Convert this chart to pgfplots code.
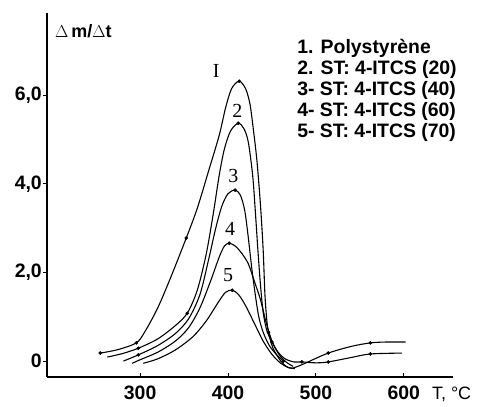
\documentclass[border=0pt]{standalone}
\usepackage{fontspec}
\setmainfont{Liberation Sans}
\newfontfamily\seriffont{Liberation Serif}
\usepackage{pgfplots}
\pgfplotsset{compat=1.18}
\begin{document}
\begin{tikzpicture}
\begin{axis}[
  scale only axis, width=406bp, height=364bp,
  xmin=194, xmax=656, ymin=-0.36, ymax=7.86,
  axis x line=bottom, axis y line=left,
  axis line style={-, line width=1.1pt},
  xtick={300,400,500,600}, xticklabels={300,400,500,600},
  ytick={0,2,4,6}, yticklabels={0,{2,0},{4,0},{6,0}},
  xtick align=inside, ytick align=outside,
  major tick length=4bp,
  tick style={line width=0.9pt, black},
  tick label style={font=\fontsize{19.5}{19.5}\selectfont\bfseries},
  xticklabel style={yshift=-5bp},
  yticklabel style={inner xsep=1pt},
  clip=false,
]
\path[draw=none] ([shift={(-47bp,-30bp)}]rel axis cs:0,0) rectangle ([shift={(31bp,13bp)}]rel axis cs:1,1);
% curve 1
\addplot[black, line width=1.1pt, smooth, tension=0.5] coordinates {
(254.6,0.18) (275,0.26) (295.6,0.41) (305,0.65) (320,1.2) (335,1.9) (352.5,2.78) (365,3.45) (378,4.3) (390,5.1) (397,5.7) (404,6.15) (412.7,6.32) (420,6.15) (425,5.8) (429,5.2) (433,4.5) (437,3.5) (440,2.5) (442,1.5) (444,0.95) (446,0.65) (451,0.3) (460,0.0) (467,-0.13) (473,-0.16) (482,-0.1) (491,-0.02) (514,0.18) (540,0.33) (562,0.41) (580,0.43) (602,0.43)};
% curve 2
\addplot[black, line width=1.1pt, smooth, tension=0.5] coordinates {
(262.6,0.09) (280,0.17) (297.9,0.29) (320,0.5) (340,0.8) (353.6,1.08) (365,1.6) (375,2.4) (383,3.3) (390,4.2) (396,4.8) (403,5.2) (411.6,5.37) (418,5.25) (423,4.95) (428,4.2) (431,3.4) (434,2.5) (437,1.7) (440,1.1) (444,0.7) (450,0.43) (457,0.2) (465,0.05) (475,-0.02) (484,-0.02) (500,-0.04) (514,-0.02) (540,0.08) (562,0.16) (598,0.18)};
% curve 3
\addplot[black, line width=1.1pt, smooth, tension=0.5] coordinates {
(281,0.0) (298,0.14) (320,0.35) (340,0.62) (355,0.95) (368,1.5) (378,2.3) (386,3.0) (393,3.5) (400,3.78) (408,3.86) (414,3.75) (419,3.4) (423,2.8) (427,2.1) (431,1.5) (435,1.0) (440,0.65) (447,0.35) (455,0.15) (463,0.0)};
% curve 4
\addplot[black, line width=1.1pt, smooth, tension=0.5] coordinates {
(291,-0.05) (300,0.03) (320,0.2) (340,0.45) (355,0.75) (368,1.2) (380,1.8) (390,2.35) (396,2.6) (401.4,2.66) (408,2.6) (415,2.45) (423,2.2) (430,1.8) (437,1.38) (443,0.9) (450,0.45) (458,0.15) (466,-0.02) (474,-0.12)};
% curve 5
\addplot[black, line width=1.1pt, smooth, tension=0.5] coordinates {
(303.6,-0.05) (320,0.05) (340,0.25) (360,0.55) (375,0.9) (388,1.3) (397,1.55) (404.8,1.6) (412,1.5) (420,1.25) (430,0.85) (440,0.45) (450,0.15) (460,-0.05) (469,-0.15) (476,-0.17)};
% dots
\addplot[only marks, mark=*, mark size=1.6pt, black] coordinates {
(254.6,0.18) (295.6,0.41) (352.5,2.78) (412.7,6.32)
(297.9,0.29) (353.6,1.08) (411.6,5.37)
(298,0.14) (408,3.86) (401.4,2.66) (404.8,1.6)
(446,0.65) (450,0.43) (463,0.0) (484,-0.02)
(514,0.18) (514,-0.02) (562,0.41) (562,0.16)};
% curve numbers
\node[font=\seriffont\fontsize{20}{20}\selectfont] at (axis cs:386.6,6.55) {I};
\node[font=\seriffont\fontsize{20}{20}\selectfont] at (axis cs:410.5,5.65) {2};
\node[font=\seriffont\fontsize{20}{20}\selectfont] at (axis cs:406,4.17) {3};
\node[font=\seriffont\fontsize{20}{20}\selectfont] at (axis cs:402.5,2.98) {4};
\node[font=\seriffont\fontsize{20}{20}\selectfont] at (axis cs:400,1.94) {5};
% axis titles
\node[anchor=base west, inner sep=0pt, font=\fontsize{18}{18}\selectfont\bfseries] at (rel axis cs:0.0197,0.934) {$\Delta$\,m/$\Delta$t};
\node[anchor=base west, inner sep=0pt, font=\fontsize{18}{18}\selectfont] at (rel axis cs:0.948,-0.062) {T, °C};
% legend text
\node[anchor=base west, inner sep=0pt, font=\fontsize{19.5}{19.5}\selectfont\bfseries] at (rel axis cs:0.616,0.890) {1. Polystyrène};
\node[anchor=base west, inner sep=0pt, font=\fontsize{19.5}{19.5}\selectfont\bfseries] at (rel axis cs:0.616,0.832) {2. ST: 4-ITCS (20)};
\node[anchor=base west, inner sep=0pt, font=\fontsize{19.5}{19.5}\selectfont\bfseries] at (rel axis cs:0.616,0.774) {3- ST: 4-ITCS (40)};
\node[anchor=base west, inner sep=0pt, font=\fontsize{19.5}{19.5}\selectfont\bfseries] at (rel axis cs:0.616,0.717) {4- ST: 4-ITCS (60)};
\node[anchor=base west, inner sep=0pt, font=\fontsize{19.5}{19.5}\selectfont\bfseries] at (rel axis cs:0.616,0.659) {5- ST: 4-ITCS (70)};
\end{axis}
\end{tikzpicture}
\end{document}
